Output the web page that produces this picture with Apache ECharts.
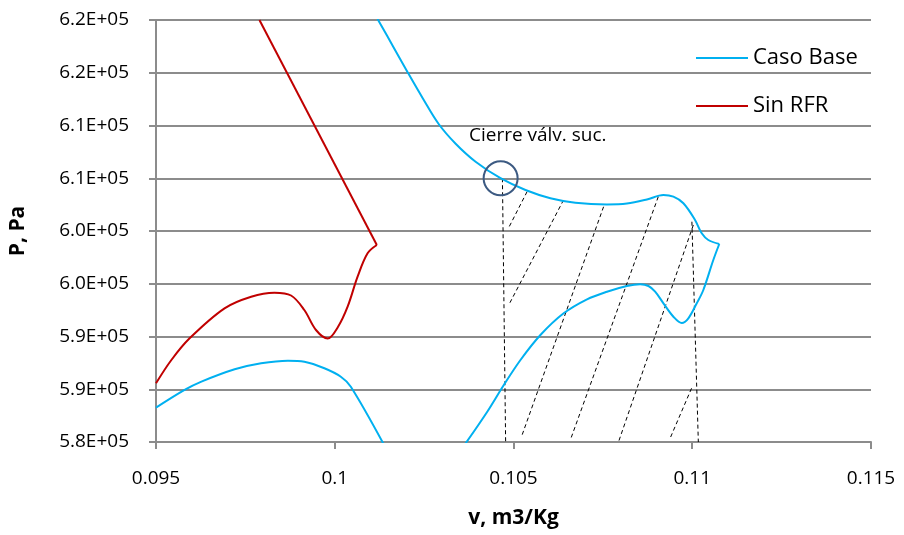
<!DOCTYPE html>
<html>
<head>
<meta charset="utf-8">
<script src="https://cdn.jsdelivr.net/npm/echarts@6/dist/echarts.min.js"></script>
<style>
  html, body { margin: 0; padding: 0; background: #fff; }
  #chart { width: 904px; height: 535px; }
</style>
</head>
<body>
<div id="chart"></div>
<script>
// Axis ticks and their printed labels
const xTickLabels = ['0.095', '0.1', '0.105', '0.11', '0.115'];
const yTickLabels = ['5.8E+05', '5.9E+05', '5.9E+05', '6.0E+05', '6.0E+05', '6.1E+05', '6.1E+05', '6.2E+05', '6.2E+05'];

// Caso Base: lower-left branch (leaves the plot at the bottom)
const casoBaseLow = [
  [0.09500, 583250], [0.09580, 584930], [0.09627, 585720], [0.09720, 586890],
  [0.09794, 587460], [0.09869, 587710], [0.09915, 587610], [0.09971, 586990],
  [0.10017, 586190], [0.10045, 585240], [0.10138, 579720]
];

// Caso Base: compression side of the loop, up to the discharge tip
const casoBaseRise = [
  [0.103661, 579877], [0.104266, 582872], [0.104729, 585403], [0.105195, 587773],
  [0.105753, 590142], [0.106403, 592199], [0.107056, 593526], [0.107614, 594247],
  [0.108172, 594787], [0.108544, 594948], [0.108775, 594787], [0.108962, 594247],
  [0.109194, 593147], [0.109473, 591877], [0.109707, 591280], [0.109891, 591725],
  [0.110126, 593147], [0.110310, 594408], [0.110589, 597251], [0.110756, 598768]
];

// Caso Base: from the discharge tip back along the suction curve
const casoBaseUpper = [
  [0.110756, 598768], [0.110449, 599147], [0.110265, 599782], [0.110078, 601043],
  [0.109752, 602626], [0.109473, 603252], [0.109194, 603413], [0.108731, 602986],
  [0.108172, 602607], [0.107614, 602521], [0.106730, 602683], [0.106032, 603109],
  [0.105335, 603886], [0.104637, 605005], [0.103940, 606569], [0.103382, 608275],
  [0.102907, 610142], [0.102461, 612588], [0.102042, 615033], [0.101624, 617545],
  [0.101197, 620096]
];

// Sin RFR: curved lower part, then the straight branch to the top
const sinRFRCurve = [
  [0.095000, 585564], [0.095430, 587773], [0.095940, 589830], [0.096917, 592673],
  [0.097662, 593773], [0.098312, 594152], [0.098778, 593887], [0.099149, 592512],
  [0.099475, 590616], [0.099802, 589811], [0.100089, 590901], [0.100360, 592825],
  [0.100639, 595669], [0.100918, 597887], [0.101177, 598673]
];
const sinRFRStraight = [
  [0.101177, 598673], [0.097893, 620000]
];

// Valve-closing marker and its note
const valveClose = [0.10464, 605000];
const valveNotePos = [0.10374, 609000];
const valveNote = 'Cierre válv. suc.';

// Dashed guide lines (verticals) and hatch strokes of the shaded area
const guideLines = [
  [[0.10469, 605000], [0.10478, 580000]],
  [[0.10999, 600880], [0.11017, 580000]]
];
const hatchLines = [
  [[0.10538, 603730], [0.10488, 600410]],
  [[0.10640, 602940], [0.10490, 593200]],
  [[0.10752, 602300], [0.10524, 580660]],
  [[0.10905, 603250], [0.10659, 580190]],
  [[0.11003, 600570], [0.10794, 580030]],
  [[0.10998, 585090], [0.10938, 580350]]
];

const BLUE = '#00b0f0';
const RED = '#c00000';
const GRID_GREY = '#8c8c8c';
const FONT = 'Open Sans';

const chart = echarts.init(document.getElementById('chart'), null, { renderer: 'canvas' });

function curve(name, data, color, smooth) {
  return {
    type: 'line', name: name, data: data,
    symbol: 'none', smooth: smooth, clip: true, z: 3,
    itemStyle: { color: color }, lineStyle: { color: color, width: 2 }
  };
}

const dashedSeries = guideLines.concat(hatchLines).map((seg, i) => ({
  type: 'line',
  name: 'guia' + i,
  data: seg,
  symbol: 'none',
  silent: true,
  z: 1,
  lineStyle: { color: '#000', width: 1, type: [4, 3] }
}));

chart.setOption({
  animation: false,
  grid: { left: 155, right: 33, top: 20, bottom: 93, containLabel: false },
  legend: {
    data: ['Caso Base', 'Sin RFR'],
    orient: 'vertical',
    left: 696,
    top: 46,
    padding: 0,
    itemGap: 24,
    itemWidth: 52,
    itemHeight: 2,
    icon: 'rect',
    textStyle: { fontFamily: FONT, fontSize: 22, color: '#000', lineHeight: 24 }
  },
  xAxis: {
    type: 'value',
    min: 0.095,
    max: 0.115,
    interval: 0.005,
    name: 'v, m3/Kg',
    nameLocation: 'middle',
    nameGap: 66,
    nameTextStyle: { fontFamily: FONT, fontSize: 21, fontWeight: 'bold', color: '#000' },
    axisLine: { show: true, lineStyle: { color: GRID_GREY, width: 2 } },
    axisTick: { show: true, length: 7, lineStyle: { color: GRID_GREY, width: 2 } },
    splitLine: { show: false },
    axisLabel: {
      fontFamily: FONT, fontSize: 19, color: '#000', margin: 27,
      formatter: (v) => xTickLabels[Math.round((v - 0.095) / 0.005)]
    }
  },
  yAxis: {
    type: 'value',
    min: 580000,
    max: 620000,
    interval: 5000,
    name: 'P, Pa',
    nameLocation: 'middle',
    nameGap: 127,
    nameRotate: 90,
    nameTextStyle: { fontFamily: FONT, fontSize: 21, fontWeight: 'bold', color: '#000' },
    axisLine: { show: true, lineStyle: { color: GRID_GREY, width: 2 } },
    axisTick: { show: true, length: 7, lineStyle: { color: GRID_GREY, width: 2 } },
    splitLine: { show: true, lineStyle: { color: GRID_GREY, width: 2 } },
    axisLabel: {
      fontFamily: FONT, fontSize: 19, color: '#000', margin: 27,
      formatter: (v) => yTickLabels[Math.round((v - 580000) / 5000)]
    }
  },
  series: [
    curve('Caso Base', casoBaseLow, BLUE, 0.35),
    curve('Caso Base', casoBaseRise, BLUE, 0.35),
    curve('Caso Base', casoBaseUpper, BLUE, 0.35),
    curve('Sin RFR', sinRFRCurve, RED, 0.35),
    curve('Sin RFR', sinRFRStraight, RED, 0),
    ...dashedSeries,
    {
      type: 'scatter', name: 'marca', data: [valveClose],
      symbol: 'circle', symbolSize: 34, silent: true, z: 4,
      itemStyle: { color: 'rgba(0,0,0,0)', borderColor: '#3c5a82', borderWidth: 2, opacity: 1 }
    },
    {
      type: 'scatter', name: 'nota', data: [valveNotePos],
      symbolSize: 1, silent: true, z: 4,
      itemStyle: { color: 'rgba(0,0,0,0)', opacity: 1 },
      label: {
        show: true, position: 'right', distance: 0,
        formatter: valveNote,
        fontFamily: FONT, fontSize: 19, color: '#000'
      }
    }
  ]
});
</script>
</body>
</html>
